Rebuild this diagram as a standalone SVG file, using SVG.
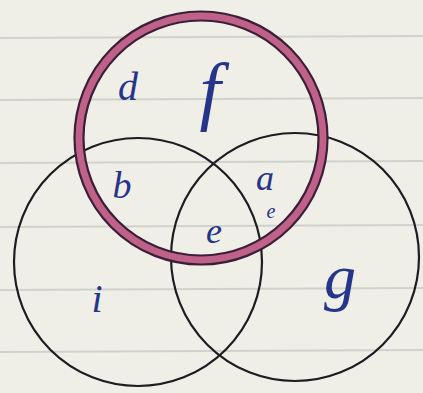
<svg xmlns="http://www.w3.org/2000/svg" width="423" height="393" viewBox="0 0 423 393">
<style>
.paper{fill:#efefe8}
.rule{stroke:#cfd3cb;stroke-width:2}
.set{fill:none;stroke:#1c1c22;stroke-width:2.2}
.band{fill:none;stroke:#bf6189;stroke-width:8}
.edge{fill:none;stroke:#3a1f36;stroke-width:2.2}
.lbl{font-family:"Liberation Serif",serif;font-style:italic;fill:#26348a;text-anchor:middle}
</style>
<rect class="paper" x="0" y="0" width="423" height="393"/>
<g id="paper-lines">
<line class="rule" x1="0" y1="38" x2="423" y2="36"/>
<line class="rule" x1="0" y1="100" x2="423" y2="98"/>
<line class="rule" x1="0" y1="163" x2="423" y2="161"/>
<line class="rule" x1="0" y1="227" x2="423" y2="225"/>
<line class="rule" x1="0" y1="290" x2="423" y2="288"/>
<line class="rule" x1="0" y1="352" x2="423" y2="350"/>
</g>
<g id="set-left"><circle class="set" cx="138" cy="262" r="124"/></g>
<g id="set-right"><circle class="set" cx="295" cy="257" r="124"/></g>
<g id="set-top">
<circle class="band" cx="201" cy="138" r="122"/>
<circle class="edge" cx="201" cy="138" r="126.5"/>
<circle class="edge" cx="201" cy="138" r="117.5"/>
</g>
<g id="labels">
<text class="lbl" x="128" y="100" font-size="40">d</text>
<text class="lbl" x="210" y="116" font-size="76">f</text>
<text class="lbl" x="122" y="198" font-size="38">b</text>
<text class="lbl" x="265" y="190" font-size="36">a</text>
<text class="lbl" x="271" y="218" font-size="20">e</text>
<text class="lbl" x="214" y="243" font-size="36">e</text>
<text class="lbl" x="97" y="312" font-size="40">i</text>
<text class="lbl" x="340" y="298" font-size="64">g</text>
</g>
</svg>
